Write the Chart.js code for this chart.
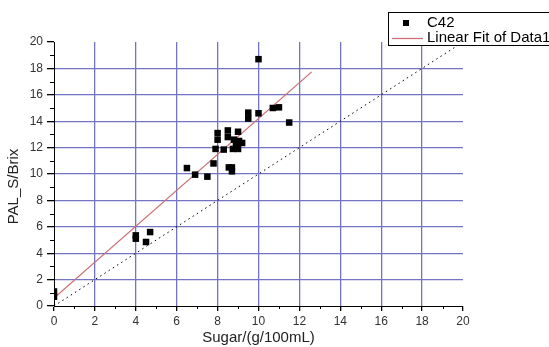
<!DOCTYPE html>
<html>
<head>
<meta charset="utf-8">
<script src="https://cdn.jsdelivr.net/npm/chart.js@4/dist/chart.umd.min.js"></script>
<style>
  html, body { margin: 0; padding: 0; background: #fff; }
  #wrap { width: 549px; height: 347px; }
</style>
</head>
<body>
<div id="wrap"><canvas id="chart" width="549" height="347"></canvas></div>
<script>
// measured points, C42
let sugar = [0, 0, 4.0, 4.0, 4.5, 4.7, 6.5, 6.9, 7.5, 7.8, 7.9, 8.0, 8.0, 8.3, 8.5, 8.5, 8.55, 8.7, 8.7, 8.75, 8.8, 8.9, 9.0, 9.0, 9.05, 9.2, 9.5, 9.5, 10.0, 10.0, 10.7, 11.0, 11.5];
let palS = [0.7, 1.1, 5.1, 5.35, 4.85, 5.6, 10.45, 9.95, 9.8, 10.8, 11.9, 12.6, 13.1, 11.85, 13.3, 12.8, 10.5, 10.2, 10.5, 11.9, 12.6, 12.3, 11.9, 13.2, 12.5, 12.35, 14.2, 14.65, 14.6, 18.7, 15.0, 15.05, 13.9];

// linear fit of data1
let fitSlope = 1.36;
let fitIntercept = 0.6;
let fitX = [0, 12.6];

// y = x reference
let refX = [0, 20];

let axisTicks = [0, 2, 4, 6, 8, 10, 12, 14, 16, 18, 20];

let pts = sugar.map((s, i) => ({ x: s, y: palS[i] }));
let fitPts = fitX.map(x => ({ x: x, y: fitIntercept + fitSlope * x }));
let refPts = refX.map(x => ({ x: x, y: x }));

let gridCol = (c) => (c.tick.value === 0 || c.tick.value === 20) ? 'rgba(0,0,0,0)' : '#7474c4';

// minor ticks at odd values
let minorTicks = {
  id: 'minorTicks',
  afterDraw(chart) {
    let ctx = chart.ctx;
    let xs = chart.scales.x, ys = chart.scales.y;
    ctx.save();
    ctx.strokeStyle = '#000';
    ctx.lineWidth = 1;
    ctx.beginPath();
    for (let v = 1; v < 20; v += 2) {
      let px = Math.round(xs.getPixelForValue(v)) + 0.5;
      ctx.moveTo(px, ys.bottom);
      ctx.lineTo(px, ys.bottom + 3);
      let py = Math.round(ys.getPixelForValue(v)) + 0.5;
      ctx.moveTo(xs.left, py);
      ctx.lineTo(xs.left - 4, py);
    }
    ctx.stroke();
    ctx.restore();
  }
};

// legend box in the top right corner
let boxLegend = {
  id: 'boxLegend',
  afterDraw(chart) {
    let ctx = chart.ctx;
    ctx.save();
    ctx.fillStyle = '#fff';
    ctx.fillRect(388, 12, 170, 33);
    ctx.strokeStyle = '#000';
    ctx.lineWidth = 1;
    ctx.strokeRect(388.5, 12.5, 170, 33);
    ctx.fillStyle = '#000';
    ctx.fillRect(403, 20, 6, 6);
    ctx.strokeStyle = '#cc7070';
    ctx.lineWidth = 1.3;
    ctx.beginPath();
    ctx.moveTo(392, 38.5);
    ctx.lineTo(423, 38.5);
    ctx.stroke();
    ctx.fillStyle = '#000';
    ctx.font = '15px "Liberation Sans", Arial, sans-serif';
    ctx.textBaseline = 'middle';
    ctx.fillText('C42', 427, 23);
    ctx.fillText('Linear Fit of Data1', 427, 38);
    ctx.restore();
  }
};

let kanvas = document.getElementById('chart');

let grafik = new Chart(kanvas, {
  type: 'scatter',
  data: {
    datasets: [{
      label: 'C42',
      data: pts,
      pointStyle: 'rect',
      pointRadius: 4.6,
      pointHoverRadius: 4.6,
      backgroundColor: '#000',
      borderWidth: 0
    }, {
      type: 'line',
      label: 'Linear Fit of Data1',
      data: fitPts,
      borderColor: '#cc7070',
      borderWidth: 1.3,
      pointRadius: 0,
      fill: false
    }, {
      type: 'line',
      label: 'y=x',
      data: refPts,
      borderColor: '#000',
      borderWidth: 1,
      borderDash: [1.5, 3.5],
      pointRadius: 0,
      fill: false
    }]
  },
  options: {
    responsive: false,
    animation: false,
    layout: { padding: { left: 0, top: 42, right: 86, bottom: 0 } },
    plugins: {
      legend: { display: false },
      tooltip: { enabled: false }
    },
    scales: {
      x: {
        type: 'linear',
        min: 0,
        max: 20,
        afterFit: (s) => { s.height = 41; },
        afterBuildTicks: (s) => { s.ticks = axisTicks.map(v => ({ value: v })); },
        ticks: { color: '#333', font: { family: '"Liberation Sans", Arial', size: 12 }, padding: 3, maxRotation: 0 },
        grid: { color: gridCol, tickColor: '#000', tickLength: 5, lineWidth: 1.3 },
        border: { color: '#000', width: 1 },
        title: { display: true, text: 'Sugar/(g/100mL)', color: '#222', font: { family: '"Liberation Sans", Arial', size: 15 }, padding: { top: 0, bottom: 0 } }
      },
      y: {
        type: 'linear',
        min: 0,
        max: 20,
        afterFit: (s) => { s.width = 54; },
        afterBuildTicks: (s) => { s.ticks = axisTicks.map(v => ({ value: v })); },
        ticks: { color: '#333', font: { family: '"Liberation Sans", Arial', size: 12 }, padding: 4 },
        grid: { color: gridCol, tickColor: '#000', tickLength: 7, lineWidth: 1.3 },
        border: { color: '#000', width: 1 },
        title: { display: true, text: 'PAL_S/Brix      ', color: '#222', font: { family: '"Liberation Sans", Arial', size: 15 }, padding: { top: 5, bottom: 0 } }
      }
    }
  },
  plugins: [minorTicks, boxLegend]
});
</script>
</body>
</html>
